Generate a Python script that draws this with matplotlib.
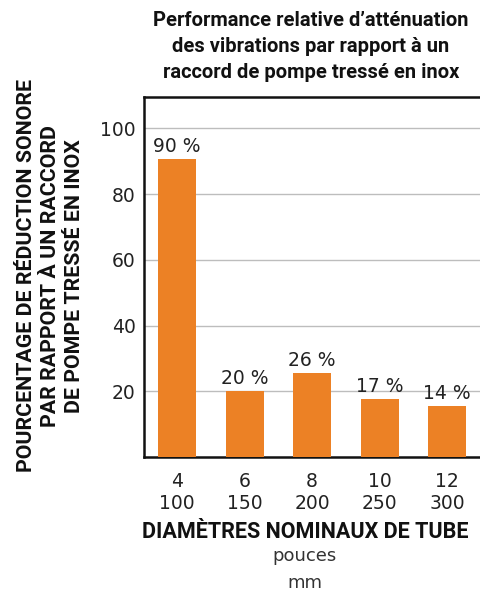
import matplotlib
matplotlib.use("Agg")
import matplotlib.pyplot as plt

# données
diam_pouces = ['4', '6', '8', '10', '12']
diam_mm = ['100', '150', '200', '250', '300']
reduction = [90.6, 20, 25.6, 17.7, 15.5]
etiquettes = ['90 %', '20 %', '26 %', '17 %', '14 %']
graduations_y = [20, 40, 60, 80, 100]

titre = "Performance relative d\u2019atténuation\ndes vibrations par rapport à un\nraccord de pompe tressé en inox"
label_y = "POURCENTAGE DE RÉDUCTION SONORE\nPAR RAPPORT À UN RACCORD\nDE POMPE TRESSÉ EN INOX"
label_x = "DIAMÈTRES NOMINAUX DE TUBE"

gras = dict(family=['Roboto', 'DejaVu Sans'], fontweight='bold', color='#111111')

orange = '#EC8125'
texte = '#222222'

fig = plt.figure(figsize=(4.8, 5.91), dpi=100)
ax = fig.add_axes([0.30, 0.2267, 0.705, 0.609])

x = list(range(len(reduction)))
ax.bar(x, reduction, width=0.56, color=orange, zorder=3)

for xi, h, lab in zip(x, reduction, etiquettes):
    ax.text(xi, h + 1.0, lab, ha='center', va='bottom', fontsize=13.5, color=texte, zorder=4)

ax.set_xlim(-0.49, 4.52)
ax.set_ylim(0, 109.5)
ax.set_yticks(graduations_y)
ax.set_yticklabels([str(v) for v in graduations_y], fontsize=13.5, color=texte)
ax.set_xticks(x)
ax.set_xticklabels([p + '\n' + m for p, m in zip(diam_pouces, diam_mm)],
                   fontsize=13.5, color=texte, linespacing=1.2)
ax.tick_params(axis='both', length=0)
ax.tick_params(axis='y', pad=6)
ax.tick_params(axis='x', pad=11)

ax.grid(axis='y', color='#BDBDBD', linewidth=1.0, zorder=0)
for s in ['left', 'bottom', 'top']:
    ax.spines[s].set_linewidth(1.8)
    ax.spines[s].set_color('#111111')
ax.spines['right'].set_visible(False)

fig.text(0.648, 0.981, titre, ha='center', va='top', fontsize=14.5,
         linespacing=1.46, **gras)

fig.text(0.106, 0.533, label_y, rotation=90, ha='center', va='center',
         fontsize=15.4, linespacing=1.33, **gras)

fig.text(0.635, 0.099, label_x, ha='center', va='center', fontsize=15.5, **gras)
fig.text(0.635, 0.059, 'pouces', ha='center', va='center', fontsize=13, color='#333333')
fig.text(0.635, 0.013, 'mm', ha='center', va='center', fontsize=13, color='#333333')

plt.savefig('out.png', dpi=100)
